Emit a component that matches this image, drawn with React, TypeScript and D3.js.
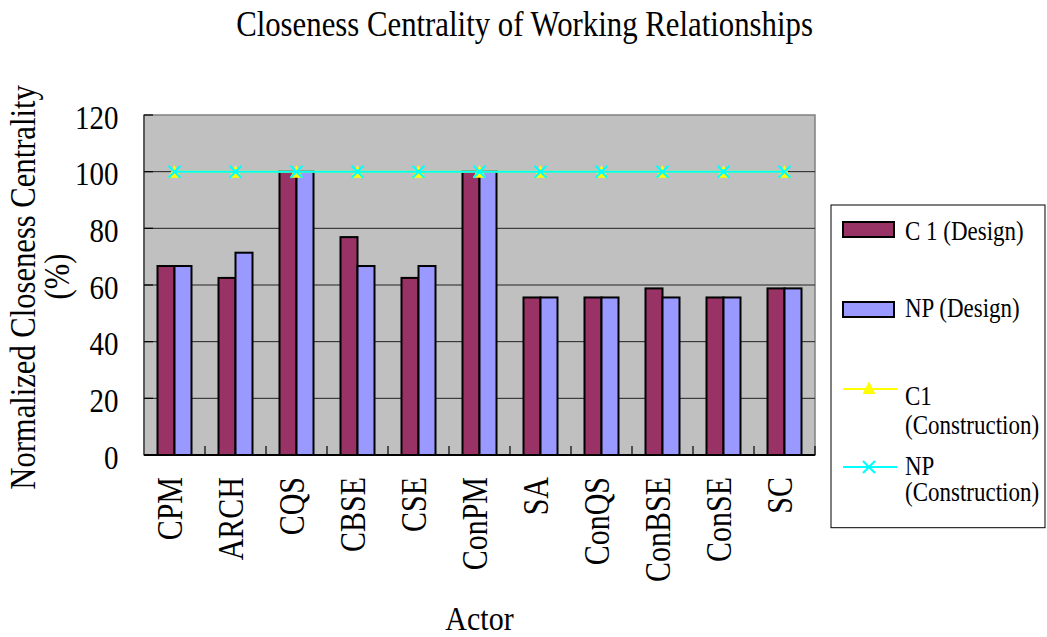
import React from "react";
import * as d3 from "d3";

const actors = ["CPM", "ARCH", "CQS", "CBSE", "CSE", "ConPM", "SA", "ConQS", "ConBSE", "ConSE", "SC"];
const c1Design = [66.7, 62.5, 100, 76.9, 62.5, 100, 55.6, 55.6, 58.8, 55.6, 58.8];
const npDesign = [66.7, 71.4, 100, 66.7, 66.7, 100, 55.6, 55.6, 55.6, 55.6, 58.8];
const c1Construction = [100, 100, 100, 100, 100, 100, 100, 100, 100, 100, 100];
const npConstruction = [100, 100, 100, 100, 100, 100, 100, 100, 100, 100, 100];
const yTicks = [0, 20, 40, 60, 80, 100, 120];

const W = 1047;
const H = 637;
const plot = { left: 144, right: 815, top: 115, bottom: 455 };
const FONT = "'Liberation Serif', 'Times New Roman', serif";
const C1_COLOR = "#993366";
const NP_COLOR = "#9999FF";
const YELLOW = "#FFFF00";
const CYAN = "#00FFFF";

function Label({ x, y, rotate = 0, sy = 1.15, size, anchor = "start", children }: any) {
  return (
    <text
      transform={`translate(${x},${y}) rotate(${rotate}) scale(1,${sy})`}
      fontFamily={FONT}
      fontSize={size}
      textAnchor={anchor}
      fill="#000"
    >
      {children}
    </text>
  );
}

// Triangle marker fitted in a square box, as spreadsheet charts draw it
const TRI = "M0,-6.5L6.5,6L-6.5,6Z";

function Triangle({ x, y }: any) {
  return <path d={TRI} transform={`translate(${x},${y})`} fill={YELLOW} />;
}

function Cross({ x, y, r = 6 }: any) {
  return (
    <g stroke={CYAN} strokeWidth={2.2}>
      <line x1={x - r} y1={y - r} x2={x + r} y2={y + r} />
      <line x1={x - r} y1={y + r} x2={x + r} y2={y - r} />
    </g>
  );
}

export default function App() {
  const x = d3.scaleBand<string>().domain(actors).range([plot.left, plot.right]).padding(0);
  const y = d3.scaleLinear().domain([0, 120]).range([plot.bottom, plot.top]);
  const cx = (a: string) => (x(a) as number) + x.bandwidth() / 2;
  const barW = 17;

  const line = d3
    .line<number>()
    .x((_, i) => cx(actors[i]))
    .y((v) => y(v));

  return (
    <svg width={W} height={H} style={{ position: "absolute", left: 0, top: 0 }}>
      <rect width={W} height={H} fill="#fff" />

      {/* plot area */}
      <rect
        x={plot.left}
        y={plot.top}
        width={plot.right - plot.left}
        height={plot.bottom - plot.top}
        fill="#C0C0C0"
        stroke="#808080"
        strokeWidth={1.5}
      />

      {/* horizontal gridlines */}
      {yTicks.slice(1, -1).map((t) => (
        <line key={t} x1={plot.left} x2={plot.right} y1={y(t)} y2={y(t)} stroke="#222" strokeWidth={1} />
      ))}

      {/* y axis line and inside ticks */}
      <line x1={plot.left} x2={plot.left} y1={plot.top} y2={plot.bottom} stroke="#333" strokeWidth={1.2} />
      {yTicks.map((t) => (
        <line key={t} x1={plot.left} x2={plot.left + 9} y1={y(t)} y2={y(t)} stroke="#000" strokeWidth={1.2} />
      ))}

      {/* bars */}
      {actors.map((a, i) => (
        <g key={a} stroke="#000" strokeWidth={2}>
          <rect x={cx(a) - barW} y={y(c1Design[i])} width={barW} height={y(0) - y(c1Design[i])} fill={C1_COLOR} />
          <rect x={cx(a)} y={y(npDesign[i])} width={barW} height={y(0) - y(npDesign[i])} fill={NP_COLOR} />
        </g>
      ))}

      {/* x axis line and category ticks */}
      <line x1={plot.left} x2={plot.right} y1={plot.bottom} y2={plot.bottom} stroke="#000" strokeWidth={2} />
      {actors.slice(1).map((a) => (
        <line key={a} x1={x(a) as number} x2={x(a) as number} y1={plot.bottom} y2={plot.bottom - 9} stroke="#000" strokeWidth={1.2} />
      ))}
      <line x1={plot.right} x2={plot.right} y1={plot.bottom} y2={plot.bottom - 9} stroke="#000" strokeWidth={1.2} />

      {/* construction series */}
      <path d={line(c1Construction) as string} fill="none" stroke={YELLOW} strokeWidth={2} />
      {c1Construction.map((v, i) => (
        <Triangle key={i} x={cx(actors[i])} y={y(v)} />
      ))}
      <path d={line(npConstruction) as string} fill="none" stroke={CYAN} strokeWidth={2} />
      {npConstruction.map((v, i) => (
        <Cross key={i} x={cx(actors[i])} y={y(v)} />
      ))}

      {/* y tick labels */}
      {yTicks.map((t) => (
        <Label key={t} x={118.5} y={y(t) + 13.5} size={29} sy={1.15} anchor="end">
          {t}
        </Label>
      ))}

      {/* x tick labels */}
      {actors.map((a) => (
        <Label key={a} x={cx(a) + 7} y={477} rotate={-90} size={30} sy={1.16} anchor="end">
          {a}
        </Label>
      ))}

      {/* titles */}
      <Label x={524.5} y={35.5} size={30.8} sy={1.18} anchor="middle">
        Closeness Centrality of Working Relationships
      </Label>
      <Label x={479.5} y={630} size={30} sy={1.1} anchor="middle">
        Actor
      </Label>
      <Label x={35} y={287.5} rotate={-90} size={30.6} sy={1.15} anchor="middle">
        Normalized Closeness Centrality
      </Label>
      <Label x={69} y={276.5} rotate={-90} size={30.6} sy={1.15} anchor="middle">
        (%)
      </Label>

      {/* legend */}
      <rect x={831} y={205} width={214} height={322.7} fill="#fff" stroke="#000" strokeWidth={1} />
      <rect x={843} y={222} width={51} height={15} fill={C1_COLOR} stroke="#000" strokeWidth={2} />
      <Label x={905} y={240} size={23} sy={1.15}>C 1 (Design)</Label>
      <rect x={843} y={302} width={51} height={15} fill={NP_COLOR} stroke="#000" strokeWidth={2} />
      <Label x={905} y={317} size={23} sy={1.15}>NP (Design)</Label>
      <line x1={843} x2={897} y1={389} y2={389} stroke={YELLOW} strokeWidth={2} />
      <Triangle x={869} y={388} />
      <Label x={905} y={405} size={23} sy={1.15}>C1</Label>
      <Label x={905} y={434} size={23} sy={1.15}>(Construction)</Label>
      <line x1={843} x2={897} y1={467} y2={467} stroke={CYAN} strokeWidth={2} />
      <Cross x={869} y={467} />
      <Label x={905} y={475} size={23} sy={1.15}>NP</Label>
      <Label x={905} y={501} size={23} sy={1.15}>(Construction)</Label>
    </svg>
  );
}
